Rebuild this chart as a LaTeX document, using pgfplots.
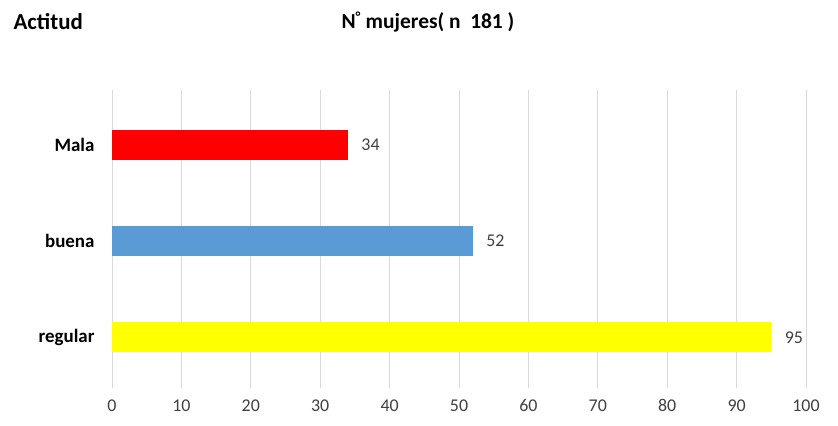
\documentclass[border=0pt]{standalone}
\usepackage{pgfplots}
\pgfplotsset{compat=1.18}
\usepackage{fontspec}
\setmainfont{Carlito}
\definecolor{gridgray}{HTML}{D9D9D9}
\definecolor{barblue}{HTML}{5B9BD5}
\definecolor{baryellow}{RGB}{255,255,0}
\definecolor{barred}{RGB}{255,0,0}
\definecolor{ticktext}{HTML}{404040}
\begin{document}
\begin{tikzpicture}
\useasboundingbox (0bp,0bp) rectangle (838bp,426bp);
\begin{axis}[
  at={(112bp,38bp)}, anchor=south west,
  scale only axis, width=694bp, height=298bp,
  xmin=0, xmax=100, ymin=-0.525, ymax=2.571,
  xbar, bar width=30bp, bar shift=0pt,
  xtick={0,10,...,100},
  ytick={0,1,2}, yticklabels={regular,buena,Mala},
  xmajorgrids, major grid style={gridgray, line width=0.8bp},
  axis line style={draw=none},
  major tick length=0pt,
  /pgf/number format/assume math mode=true,
  xticklabel style={font=\fontsize{18}{18}\selectfont, text=ticktext, yshift=-8bp},
  yticklabel style={font=\bfseries\fontsize{19}{19}\selectfont, text=black, xshift=-14bp},
  nodes near coords,
  nodes near coords style={font=\fontsize{18}{18}\selectfont, text=ticktext, anchor=west, xshift=10bp},
]
\addplot[fill=baryellow, draw=none] coordinates {(95,0)};
\addplot[fill=barblue, draw=none] coordinates {(52,1)};
\addplot[fill=barred, draw=none] coordinates {(34,2)};
\end{axis}
\node[anchor=west, font=\bfseries\fontsize{23}{23}\selectfont] at (10bp,404bp) {Actitud};
\node[anchor=west, font=\bfseries\fontsize{21.5}{21.5}\selectfont] at (338bp,404bp) {N\textsuperscript{\fontsize{14}{14}\selectfont\raisebox{-1bp}{°}} mujeres( n\ \ 181 )};
\end{tikzpicture}
\end{document}
